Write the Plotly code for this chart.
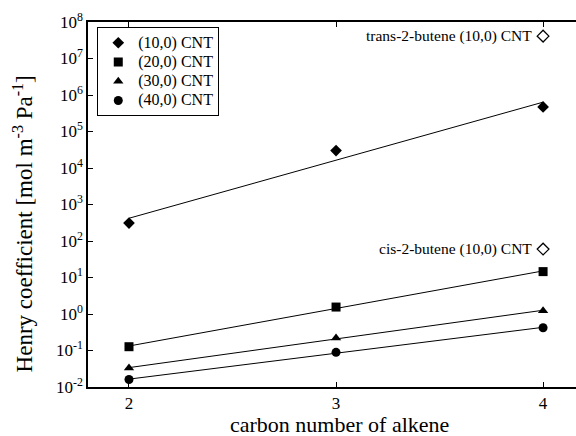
import numpy as np
import plotly.graph_objects as go

carbon = [2, 3, 4]
cnt10 = [310, 30000, 470000]
cnt20 = [0.127, 1.55, 14.5]
cnt30 = [0.033, 0.22, 1.23]
cnt40 = [0.016, 0.089, 0.42]
trans_x, trans_y = 4, 4.1e7
cis_x, cis_y = 4, 60

series = [
    ("(10,0) CNT", cnt10, "diamond", 9),
    ("(20,0) CNT", cnt20, "square", 9),
    ("(30,0) CNT", cnt30, "triangle-up", 9),
    ("(40,0) CNT", cnt40, "circle", 9),
]

FONT = "Liberation Serif"
fig = go.Figure()
xs = np.array(carbon, dtype=float)
for name, vals, sym, sz in series:
    coef = np.polyfit(xs, np.log10(vals), 1)
    fit = 10 ** np.polyval(coef, xs)
    fig.add_trace(go.Scatter(x=carbon, y=fit, mode="lines",
                             line=dict(color="black", width=1), showlegend=False,
                             hoverinfo="skip"))
for name, vals, sym, sz in series:
    fig.add_trace(go.Scatter(x=carbon, y=vals, mode="markers",
                             name='<span style="font-size:16px">%s</span>' % name,
                             marker=dict(symbol=sym, size=sz, color="black")))

for xv, yv in [(trans_x, trans_y), (cis_x, cis_y)]:
    fig.add_trace(go.Scatter(x=[xv], y=[yv], mode="markers", showlegend=False,
                             marker=dict(symbol="diamond-open", size=9, color="black",
                                         line=dict(width=1.3))))

fig.add_annotation(x=trans_x, y=np.log10(trans_y), xref="x", yref="y",
                   text="trans-2-butene (10,0) CNT", showarrow=False,
                   xanchor="right", xshift=-9, font=dict(family=FONT, size=15.5, color="black"))
fig.add_annotation(x=cis_x, y=np.log10(cis_y), xref="x", yref="y",
                   text="cis-2-butene (10,0) CNT", showarrow=False,
                   xanchor="right", xshift=-9, font=dict(family=FONT, size=15.5, color="black"))

# axis titles as annotations for exact placement
fig.add_annotation(x=-0.132, y=0.447, xref="paper", yref="paper", textangle=-90,
                   text="Henry coefficient [mol m<sup>-3</sup> Pa<sup>-1</sup>]",
                   showarrow=False, xanchor="center", yanchor="middle",
                   font=dict(family=FONT, size=23, color="black"))
fig.add_annotation(x=0.516, y=-0.104, xref="paper", yref="paper",
                   text="carbon number of alkene",
                   showarrow=False, xanchor="center", yanchor="middle",
                   font=dict(family=FONT, size=22, color="black"))

exps = list(range(-2, 9))
fig.update_layout(
    width=576, height=436,
    margin=dict(l=88, r=0, t=22, b=49),
    paper_bgcolor="white", plot_bgcolor="white",
    font=dict(family=FONT, size=16, color="black"),
    legend=dict(x=0.019, y=0.986, xanchor="left", yanchor="top",
                bordercolor="black", borderwidth=1, bgcolor="white",
                font=dict(family=FONT, size=12.5), tracegroupgap=0,
                itemwidth=30),
    xaxis=dict(range=[1.802, 4.159], tickvals=carbon, ticktext=[str(c) for c in carbon],
               ticks="inside", ticklen=5, tickwidth=1, tickcolor="black",
               showline=True, linecolor="black", linewidth=1.5, mirror="ticks",
               showgrid=False, zeroline=False, tickfont=dict(size=17)),
    yaxis=dict(type="log", range=[-2, 8],
               tickvals=[10.0 ** e for e in exps],
               ticktext=["10<sup>%d</sup>" % e for e in exps],
               ticks="inside", ticklen=5, tickwidth=1, tickcolor="black",
               showline=True, linecolor="black", linewidth=1.5,
               showgrid=False, zeroline=False, tickfont=dict(size=17)),
)
fig.write_html("out.html")
